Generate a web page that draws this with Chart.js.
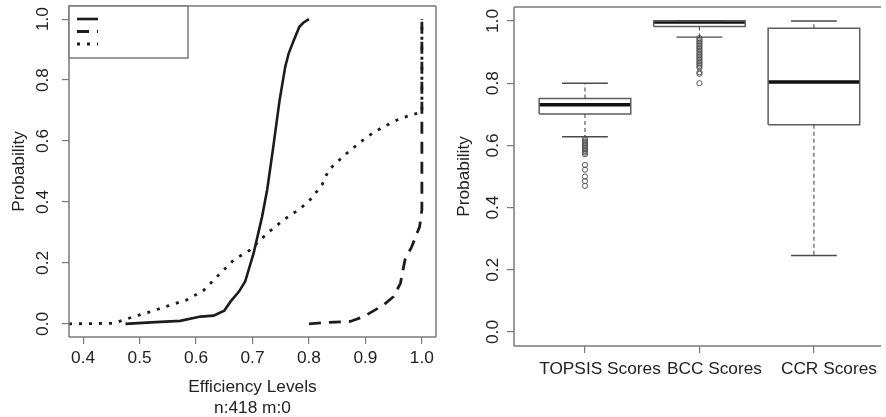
<!DOCTYPE html>
<html lang="en">
<head>
  <meta charset="UTF-8">
  <title>Efficiency Levels</title>
  <script src="https://cdn.jsdelivr.net/npm/chart.js"></script>
  <style>
    html, body { margin: 0; padding: 0; background: #fff; }
    .panel { position: absolute; top: 0; width: 443px; height: 417px; }
  </style>
</head>
<body>

<div class="panel" style="left:0"><canvas id="ecdfChart" width="443" height="417"></canvas></div>
<div class="panel" style="left:443px"><canvas id="boxChart" width="443" height="417"></canvas></div>

<script>
  // ECDF curves (left panel)
  var levelTicks = [0.4, 0.5, 0.6, 0.7, 0.8, 0.9, 1.0];
  var probTicks = [0, 0.2, 0.4, 0.6, 0.8, 1.0];

  var topsisLevels = [0.475, 0.52, 0.572, 0.608, 0.631, 0.65, 0.661, 0.676, 0.687, 0.702, 0.717, 0.726, 0.736, 0.748, 0.758, 0.764, 0.773, 0.783, 0.79, 0.8];
  var topsisProb   = [0.0, 0.005, 0.01, 0.024, 0.027, 0.043, 0.073, 0.106, 0.139, 0.232, 0.352, 0.44, 0.57, 0.734, 0.844, 0.887, 0.93, 0.975, 0.988, 1.0];

  var bccLevels = [0.8, 0.826, 0.873, 0.897, 0.932, 0.95, 0.962, 0.97, 0.982, 0.996, 1.0, 1.0];
  var bccProb   = [0.0, 0.004, 0.008, 0.024, 0.062, 0.09, 0.133, 0.21, 0.253, 0.319, 0.374, 1.0];

  var ccrLevels = [0.375, 0.454, 0.49, 0.519, 0.555, 0.584, 0.614, 0.643, 0.667, 0.696, 0.726, 0.755, 0.785, 0.802, 0.823, 0.835, 0.867, 0.903, 0.932, 0.962, 1.0, 1.0];
  var ccrProb   = [0.0, 0.002, 0.024, 0.04, 0.062, 0.079, 0.111, 0.166, 0.21, 0.243, 0.297, 0.341, 0.379, 0.407, 0.456, 0.505, 0.56, 0.614, 0.647, 0.674, 0.696, 1.0];

  // Box plot summaries (right panel)
  var scoreGroups = ['TOPSIS Scores', 'BCC Scores', 'CCR Scores'];
  var whiskerLow  = [0.628, 0.948, 0.246];
  var boxLow      = [0.701, 0.982, 0.666];
  var medians     = [0.731, 0.997, 0.804];
  var boxHigh     = [0.751, 1.0, 0.977];
  var whiskerHigh = [0.8, 1.0, 1.0];
  var topsisOutliers = [0.622, 0.617, 0.612, 0.607, 0.602, 0.597, 0.592, 0.587, 0.582, 0.577, 0.572, 0.537, 0.522, 0.5, 0.485, 0.47];
  var bccOutliers = [0.945, 0.94, 0.935, 0.93, 0.925, 0.92, 0.915, 0.91, 0.905, 0.9, 0.895, 0.89, 0.885, 0.88, 0.875, 0.87, 0.865, 0.86, 0.855, 0.85, 0.835, 0.83, 0.8];
  var ccrOutliers = [];

  var FONT = { family: '"Liberation Sans", Arial, sans-serif', size: 17.3, lineHeight: 1.22 };
  var TICK_FONT = { size: 17.3, lineHeight: 1.2 };
  var TEXT = '#222';
  var FRAME = '#7a7a7a';
  var INK = '#1c1c1c';

  Chart.defaults.font.family = FONT.family;
  Chart.defaults.color = TEXT;

  function pts(xs, ys) {
    return xs.map(function (x, i) { return { x: x, y: ys[i] }; });
  }

  function fixedTicks(values) {
    return function (scale) {
      scale.ticks = values.map(function (v) { return { value: v }; });
    };
  }

  // fixed axis thickness, and no extra room for overhanging end labels
  function fixedSize(size) {
    return function (s) {
      if (s.isHorizontal()) s.height = size; else s.width = size;
      s.paddingTop = s.paddingBottom = s.paddingLeft = s.paddingRight = 0;
    };
  }

  // R-style box around the plotting region
  var plotFrame = {
    id: 'plotFrame',
    afterDraw: function (chart, args, opts) {
      var a = chart.chartArea, ctx = chart.ctx;
      var sides = opts.sides || ['top', 'right', 'bottom', 'left'];
      ctx.save();
      ctx.strokeStyle = FRAME;
      ctx.lineWidth = 1.5;
      ctx.beginPath();
      if (sides.indexOf('top') >= 0) { ctx.moveTo(a.left, a.top); ctx.lineTo(a.right, a.top); }
      if (sides.indexOf('right') >= 0) { ctx.moveTo(a.right, a.top); ctx.lineTo(a.right, a.bottom); }
      if (sides.indexOf('bottom') >= 0) { ctx.moveTo(a.left, a.bottom); ctx.lineTo(a.right, a.bottom); }
      if (sides.indexOf('left') >= 0) { ctx.moveTo(a.left, a.top); ctx.lineTo(a.left, a.bottom); }
      ctx.stroke();
      ctx.restore();
    }
  };

  // legend box with line samples only (no labels)
  var sampleLegend = {
    id: 'sampleLegend',
    afterDraw: function (chart, args, opts) {
      if (!opts.show) return;
      var a = chart.chartArea, ctx = chart.ctx;
      ctx.save();
      ctx.fillStyle = '#fff';
      ctx.fillRect(a.left, a.top, opts.width, opts.height);
      ctx.strokeStyle = FRAME;
      ctx.lineWidth = 1.5;
      ctx.strokeRect(a.left, a.top, opts.width, opts.height);
      chart.data.datasets.forEach(function (ds, i) {
        var y = a.top + opts.firstRow + i * opts.rowGap;
        ctx.strokeStyle = ds.borderColor;
        ctx.lineWidth = ds.borderWidth;
        ctx.setLineDash(ds.borderDash || []);
        ctx.beginPath();
        ctx.moveTo(a.left + 8, y);
        ctx.lineTo(a.left + 29, y);
        ctx.stroke();
      });
      ctx.restore();
    }
  };

  new Chart(document.getElementById('ecdfChart'), {
    type: 'scatter',
    plugins: [plotFrame, sampleLegend],
    data: {
      datasets: [
        { label: 'TOPSIS', data: pts(topsisLevels, topsisProb), showLine: true, borderColor: INK, borderWidth: 2.6, pointRadius: 0 },
        { label: 'BCC', data: pts(bccLevels, bccProb), showLine: true, borderColor: INK, borderWidth: 2.8, borderDash: [12, 8], pointRadius: 0 },
        { label: 'CCR', data: pts(ccrLevels, ccrProb), showLine: true, borderColor: INK, borderWidth: 2.8, borderDash: [3, 7], pointRadius: 0 }
      ]
    },
    options: {
      responsive: false,
      animation: false,
      devicePixelRatio: 1,
      layout: { padding: { left: 0, right: 7, top: 6, bottom: 0 } },
      plugins: {
        legend: { display: false },
        tooltip: { enabled: false },
        plotFrame: {},
        sampleLegend: { show: true, width: 119, height: 52, firstRow: 13, rowGap: 12.5 }
      },
      scales: {
        x: {
          type: 'linear', min: 0.375, max: 1.025,
          afterBuildTicks: fixedTicks(levelTicks),
          afterFit: fixedSize(80),
          border: { display: false },
          grid: { drawOnChartArea: false, drawTicks: true, tickLength: 7, color: FRAME, lineWidth: 1.2 },
          ticks: { font: TICK_FONT, color: TEXT, padding: 4, maxRotation: 0, autoSkip: false,
                   callback: function (v) { return v.toFixed(1); } },
          title: { display: true, text: ['Efficiency Levels', 'n:418 m:0'], font: FONT, color: TEXT, padding: { top: 0, bottom: -1.5 } }
        },
        y: {
          type: 'linear', min: -0.043, max: 1.043,
          afterBuildTicks: fixedTicks(probTicks),
          afterFit: fixedSize(69),
          border: { display: false },
          grid: { drawOnChartArea: false, drawTicks: true, tickLength: 7, color: FRAME, lineWidth: 1.2 },
          ticks: { font: TICK_FONT, color: TEXT, padding: 7, minRotation: 90, maxRotation: 90, crossAlign: 'center',
                   callback: function (v) { return v.toFixed(1); } },
          title: { display: true, text: 'Probability', font: FONT, color: TEXT, padding: { top: 9, bottom: 0 } }
        }
      }
    }
  });

  // box plot pieces built from the summaries
  var BOX_HALF = 0.4, STAPLE_HALF = 0.2;
  var boxOutline = [], medianBars = [], whiskers = [], staples = [], outliers = [];
  var gap = { x: null, y: null };
  [topsisOutliers, bccOutliers, ccrOutliers].forEach(function (outs, i) {
    var p = i + 1;
    boxOutline.push({ x: p - BOX_HALF, y: boxLow[i] }, { x: p + BOX_HALF, y: boxLow[i] },
                    { x: p + BOX_HALF, y: boxHigh[i] }, { x: p - BOX_HALF, y: boxHigh[i] },
                    { x: p - BOX_HALF, y: boxLow[i] }, gap);
    medianBars.push({ x: p - BOX_HALF, y: medians[i] }, { x: p + BOX_HALF, y: medians[i] }, gap);
    whiskers.push({ x: p, y: boxHigh[i] }, { x: p, y: whiskerHigh[i] }, gap,
                  { x: p, y: boxLow[i] }, { x: p, y: whiskerLow[i] }, gap);
    staples.push({ x: p - STAPLE_HALF, y: whiskerHigh[i] }, { x: p + STAPLE_HALF, y: whiskerHigh[i] }, gap,
                 { x: p - STAPLE_HALF, y: whiskerLow[i] }, { x: p + STAPLE_HALF, y: whiskerLow[i] }, gap);
    outs.forEach(function (v) { outliers.push({ x: p, y: v }); });
  });

  new Chart(document.getElementById('boxChart'), {
    type: 'scatter',
    plugins: [plotFrame],
    data: {
      datasets: [
        { data: whiskers, showLine: true, spanGaps: false, borderColor: '#4a4a4a', borderWidth: 1.1, borderDash: [4, 3], pointRadius: 0 },
        { data: staples, showLine: true, spanGaps: false, borderColor: '#4a4a4a', borderWidth: 1.4, pointRadius: 0 },
        { data: boxOutline, showLine: true, spanGaps: false, borderColor: '#5e5e5e', borderWidth: 1.5, pointRadius: 0 },
        { data: medianBars, showLine: true, spanGaps: false, borderColor: '#111', borderWidth: 3.5, pointRadius: 0 },
        { data: outliers, showLine: false, pointRadius: 2.6, pointBorderWidth: 1, pointBorderColor: '#555', pointBackgroundColor: 'rgba(255,255,255,0)' }
      ]
    },
    options: {
      responsive: false,
      animation: false,
      devicePixelRatio: 1,
      layout: { padding: { left: 0, right: 0, top: 7, bottom: 0 } },
      plugins: {
        legend: { display: false },
        tooltip: { enabled: false },
        plotFrame: { sides: ['top', 'bottom', 'left'] }
      },
      scales: {
        x: {
          type: 'linear', min: 0.38, max: 3.586,
          afterBuildTicks: fixedTicks([1, 2, 3]),
          afterFit: fixedSize(71),
          border: { display: false },
          grid: { drawOnChartArea: false, drawTicks: true, tickLength: 7, color: FRAME, lineWidth: 1.2 },
          ticks: { font: TICK_FONT, color: TEXT, padding: 6, labelOffset: 15, maxRotation: 0, autoSkip: false,
                   callback: function (v) { return scoreGroups[v - 1]; } }
        },
        y: {
          type: 'linear', min: -0.045, max: 1.045,
          afterBuildTicks: fixedTicks(probTicks),
          afterFit: fixedSize(71),
          border: { display: false },
          grid: { drawOnChartArea: false, drawTicks: true, tickLength: 7, color: FRAME, lineWidth: 1.2 },
          ticks: { font: TICK_FONT, color: TEXT, padding: 2, minRotation: 90, maxRotation: 90, crossAlign: 'center',
                   callback: function (v) { return v.toFixed(1); } },
          title: { display: true, text: 'Probability', font: FONT, color: TEXT, padding: { top: 10.5, bottom: 0 } }
        }
      }
    }
  });
</script>

</body>
</html>
